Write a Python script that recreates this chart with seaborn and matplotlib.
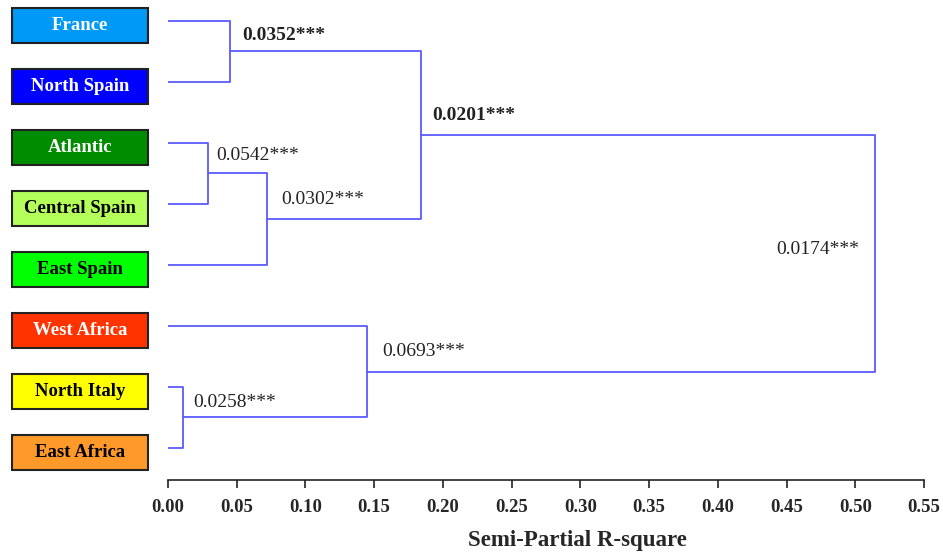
import numpy as np
import pandas as pd
import seaborn as sns
import matplotlib.pyplot as plt
from matplotlib.patches import Rectangle

# Leaves, top to bottom
leaves = ["France", "North Spain", "Atlantic", "Central Spain",
          "East Spain", "West Africa", "North Italy", "East Africa"]
leaf_colors = ["#0099f5", "#0000ff", "#008c00", "#b4ff5a",
               "#00ff00", "#ff3300", "#ffff00", "#ff9a2a"]
leaf_text_colors = ["white", "white", "white", "black",
                    "black", "white", "black", "black"]

# Merges: (left child, right child, semi-partial R-square height, label)
# integer child = index of an earlier merge
merge_left = ["France", "Atlantic", 1, 0, "North Italy", "West Africa", 3]
merge_right = ["North Spain", "Central Spain", "East Spain", 2, "East Africa", 4, 5]
merge_height = [0.045, 0.029, 0.072, 0.184, 0.011, 0.145, 0.514]
merge_labels = ["0.0352***", "0.0542***", "0.0302***", "0.0201***",
                "0.0258***", "0.0693***", "0.0174***"]
merge_bold = [True, False, False, True, False, False, False]

xticks = np.arange(0, 0.551, 0.05)

# label offsets in pixels (dx, dy) relative to node
label_offsets = [(12, 16), (8, 18), (14, 20), (11, 20), (10, 15), (15, 20), (-15, 4)]

sns.set_theme(style="white")
plt.rcParams['font.family'] = ['Liberation Serif', 'DejaVu Serif']

fig = plt.figure(figsize=(9.43, 5.53), dpi=100)
ax = fig.add_axes([168 / 943, 73 / 553, (924 - 168) / 943, (480 - 5) / 553])

# build segments
leaf_pos = {name: (0.0, float(i)) for i, name in enumerate(leaves)}
node_pos = []
rows = []


def child_pos(c):
    if isinstance(c, int):
        return node_pos[c]
    return leaf_pos[c]


for k, (a, b, h) in enumerate(zip(merge_left, merge_right, merge_height)):
    xa, ya = child_pos(a)
    xb, yb = child_pos(b)
    for px, py in [(xa, ya), (h, ya), (h, yb), (xb, yb)]:
        rows.append({"link": k, "x": px, "y": py})
    node_pos.append((h, (ya + yb) / 2))

seg = pd.DataFrame(rows)
sns.lineplot(data=seg, x="x", y="y", units="link", estimator=None, sort=False,
             color="#5a5aff", linewidth=1.3, ax=ax, legend=False)

for k, (lab, bold) in enumerate(zip(merge_labels, merge_bold)):
    nx, ny = node_pos[k]
    dx, dy = label_offsets[k]
    ax.annotate(lab, (nx, ny), xytext=(dx, dy), textcoords="offset pixels",
                ha="left" if dx > 0 else "right", va="center",
                fontsize=14, fontweight="bold" if bold else "normal",
                color="#222222")

# coloured leaf boxes
box_x0, box_w, box_h = -0.1135, 0.099, 0.574
for i, name in enumerate(leaves):
    yc = i + 0.07
    ax.add_patch(Rectangle((box_x0, yc - box_h / 2), box_w, box_h,
                           facecolor=leaf_colors[i], edgecolor="#222222",
                           linewidth=1.5, clip_on=False))
    ax.text(box_x0 + box_w / 2, yc, name, ha="center", va="center",
            fontsize=13.5, fontweight="bold", color=leaf_text_colors[i])

ax.set_xlim(0, 0.55)
ax.set_ylim(7.525, -0.262)
ax.set_yticks([])
ax.set_xticks(xticks)
ax.set_xticklabels([f"{t:.2f}" for t in xticks], fontsize=13.5, fontweight="bold")
ax.tick_params(axis="x", direction="out", length=6, width=1.2, pad=8,
               bottom=True, color="#222222")
ax.set_xlabel("Semi-Partial R-square", fontsize=16.5, fontweight="bold")
ax.xaxis.set_label_coords((577 - 168) / 756, -50 / 475)
ax.set_ylabel("")
sns.despine(ax=ax, left=True, top=True, right=True)
ax.spines["bottom"].set_color("#222222")
ax.spines["bottom"].set_linewidth(1.2)

fig.savefig("out.png", dpi=100)
